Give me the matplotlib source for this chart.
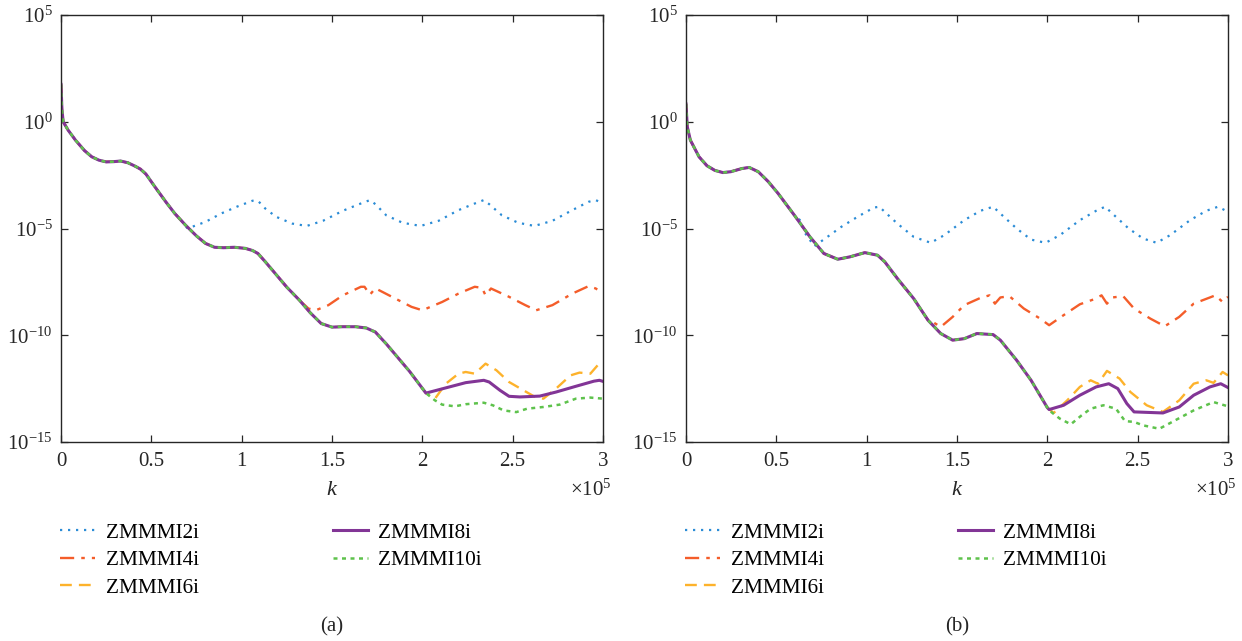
import numpy as np
import matplotlib
matplotlib.use('Agg')
import matplotlib.pyplot as plt

plt.rcParams['font.family'] = ['Liberation Serif', 'DejaVu Serif']
plt.rcParams['mathtext.fontset'] = 'custom'
plt.rcParams['mathtext.rm'] = 'Liberation Serif'
plt.rcParams['mathtext.it'] = 'Liberation Serif:italic'

# k values in units of 1e5, errors as log10 values

# ---- panel (a) ----
common_k_a = [0.0, 0.005, 0.012, 0.04, 0.08, 0.13, 0.17, 0.21, 0.25, 0.29, 0.33, 0.37, 0.41, 0.44,
              0.47, 0.52, 0.58, 0.63, 0.69, 0.75, 0.80, 0.85, 0.90, 0.96, 1.02, 1.06, 1.09, 1.13,
              1.19, 1.25, 1.32, 1.38, 1.44, 1.50, 1.56, 1.63, 1.69, 1.74, 1.80, 1.86, 1.93]
common_e_a = [1.75, 0.6, 0.0, -0.4, -0.86, -1.35, -1.64, -1.8, -1.88, -1.87, -1.84, -1.92, -2.08, -2.22,
              -2.45, -3.05, -3.75, -4.3, -4.85, -5.35, -5.7, -5.88, -5.9, -5.88, -5.93, -6.03, -6.17, -6.55,
              -7.15, -7.75, -8.36, -8.95, -9.45, -9.62, -9.6, -9.6, -9.66, -9.85, -10.4, -11.0, -11.7]

k2_a = [0.66, 0.70, 0.80, 0.886, 0.973, 1.06, 1.09, 1.13, 1.19, 1.28, 1.36, 1.45, 1.56, 1.65,
        1.71, 1.74, 1.80, 1.89, 1.99, 2.09, 2.20, 2.29, 2.34, 2.37, 2.44, 2.53, 2.62, 2.72,
        2.83, 2.92, 2.96, 3.0]
e2_a = [-4.55, -5.0, -4.69, -4.30, -3.98, -3.70, -3.70, -4.06, -4.45, -4.77, -4.88, -4.64, -4.17,
        -3.86, -3.67, -3.86, -4.38, -4.73, -4.88, -4.64, -4.14, -3.83, -3.67, -3.86, -4.38, -4.73,
        -4.88, -4.64, -4.14, -3.75, -3.67, -3.83]

k4_a = [1.37, 1.41, 1.48, 1.56, 1.66, 1.68, 1.71, 1.74, 1.85, 1.94, 2.0, 2.11, 2.20, 2.29, 2.33,
        2.35, 2.38, 2.48, 2.57, 2.63, 2.72, 2.83, 2.92, 2.96, 3.0]
e4_a = [-8.75, -8.83, -8.59, -8.13, -7.73, -7.73, -8.1, -7.8, -8.28, -8.67, -8.83, -8.44, -8.05,
        -7.73, -7.78, -8.13, -7.81, -8.2, -8.59, -8.83, -8.59, -8.05, -7.7, -7.81, -8.05]

k6_a = [2.02, 2.07, 2.13, 2.20, 2.24, 2.29, 2.35, 2.41, 2.48, 2.56, 2.63, 2.67, 2.74, 2.82, 2.87,
        2.93, 2.97, 3.0]
e6_a = [-12.71, -12.97, -12.27, -11.8, -11.72, -11.8, -11.33, -11.64, -12.19, -12.58, -12.92,
        -12.97, -12.5, -11.88, -11.75, -11.8, -11.41, -11.36]

k8_a = [2.02, 2.15, 2.24, 2.34, 2.37, 2.43, 2.48, 2.54, 2.65, 2.74, 2.85, 2.95, 2.98, 3.0]
e8_a = [-12.71, -12.42, -12.22, -12.11, -12.19, -12.58, -12.86, -12.89, -12.85, -12.66, -12.39,
        -12.15, -12.11, -12.16]

k10_a = [2.02, 2.07, 2.11, 2.18, 2.24, 2.34, 2.39, 2.45, 2.52, 2.58, 2.67, 2.76, 2.85, 2.93, 3.0]
e10_a = [-12.71, -13.05, -13.25, -13.33, -13.23, -13.16, -13.28, -13.52, -13.6, -13.44, -13.36,
         -13.25, -12.97, -12.92, -12.97]

# ---- panel (b) ----
common_k_b = [0.0, 0.007, 0.024, 0.072, 0.116, 0.16, 0.204, 0.248, 0.31, 0.35, 0.40, 0.456, 0.51,
              0.60, 0.686, 0.763, 0.84, 0.906, 0.99, 1.06, 1.10, 1.17, 1.26, 1.34, 1.41, 1.476,
              1.54, 1.61, 1.70, 1.74, 1.83, 1.91]
common_e_b = [0.83, -0.23, -0.86, -1.64, -2.06, -2.28, -2.38, -2.34, -2.19, -2.14, -2.34, -2.81,
              -3.36, -4.38, -5.39, -6.17, -6.44, -6.33, -6.13, -6.25, -6.56, -7.34, -8.28, -9.30,
              -9.92, -10.23, -10.16, -9.92, -9.97, -10.23, -11.17, -12.11]

k2_b = [0.63, 0.66, 0.71, 0.77, 0.86, 0.95, 1.04, 1.07, 1.10, 1.17, 1.26, 1.355, 1.43, 1.54,
        1.63, 1.70, 1.74, 1.83, 1.91, 1.99, 2.07, 2.18, 2.27, 2.32, 2.36, 2.45, 2.53, 2.605,
        2.68, 2.79, 2.88, 2.945, 3.0]
e2_b = [-4.6, -5.23, -5.83, -5.47, -4.92, -4.45, -4.02, -3.98, -4.22, -4.77, -5.39, -5.67, -5.31,
        -4.61, -4.17, -3.98, -4.30, -5.0, -5.52, -5.67, -5.31, -4.61, -4.17, -3.98, -4.30, -5.0,
        -5.47, -5.67, -5.31, -4.61, -4.17, -3.98, -4.22]

k4_b = [1.366, 1.41, 1.476, 1.54, 1.63, 1.68, 1.71, 1.74, 1.79, 1.87, 1.96, 2.01, 2.09, 2.18,
        2.27, 2.30, 2.33, 2.36, 2.42, 2.48, 2.57, 2.65, 2.73, 2.81, 2.90, 2.93, 2.97, 3.0]
e4_b = [-9.38, -9.61, -9.14, -8.59, -8.25, -8.13, -8.52, -8.23, -8.17, -8.75, -9.22, -9.53,
        -9.06, -8.55, -8.28, -8.13, -8.52, -8.23, -8.17, -8.75, -9.22, -9.58, -9.14, -8.52,
        -8.23, -8.13, -8.44, -8.2]

k6_b = [2.0, 2.035, 2.11, 2.18, 2.24, 2.28, 2.33, 2.40, 2.46, 2.55, 2.64, 2.73, 2.81, 2.88,
        2.92, 2.97, 3.0]
e6_b = [-13.39, -13.64, -13.05, -12.42, -12.11, -12.27, -11.67, -12.03, -12.66, -13.28, -13.59,
        -13.05, -12.27, -12.11, -12.23, -11.72, -11.88]

k8_b = [2.0, 2.01, 2.09, 2.18, 2.27, 2.34, 2.39, 2.44, 2.48, 2.64, 2.73, 2.81, 2.90, 2.96, 3.0]
e8_b = [-13.39, -13.48, -13.28, -12.81, -12.42, -12.27, -12.5, -13.2, -13.59, -13.64, -13.36,
        -12.81, -12.42, -12.27, -12.45]

k10_b = [2.0, 2.01, 2.07, 2.13, 2.19, 2.24, 2.31, 2.38, 2.43, 2.48, 2.53, 2.62, 2.70, 2.81,
         2.92, 3.0]
e10_b = [-13.39, -13.52, -13.91, -14.17, -13.75, -13.44, -13.28, -13.44, -14.02, -14.06, -14.22,
         -14.38, -14.02, -13.52, -13.13, -13.33]

labels = ['ZMMMI2i', 'ZMMMI4i', 'ZMMMI6i', 'ZMMMI8i', 'ZMMMI10i']
colors = ['#2b8cd6', '#f45d2a', '#fdb22b', '#823596', '#5ec24c']
styles = [(0, (1, 2.6)), (0, (6, 3, 1.5, 3)), (0, (5, 3)), '-', (0, (1.6, 1.8))]
widths = [1.6, 1.7, 1.7, 2.2, 1.8]


def join(ck, ce, tk, te):
    ks = [k for k in ck if k < tk[0]] + tk
    es = [e for k, e in zip(ck, ce) if k < tk[0]] + te
    return np.array(ks) * 1e5, 10.0 ** np.array(es)


panels = [
    (common_k_a, common_e_a, [(k2_a, e2_a), (k4_a, e4_a), (k6_a, e6_a), (k8_a, e8_a), (k10_a, e10_a)]),
    (common_k_b, common_e_b, [(k2_b, e2_b), (k4_b, e4_b), (k6_b, e6_b), (k8_b, e8_b), (k10_b, e10_b)]),
]

W, H = 1242, 641
fig = plt.figure(figsize=(W / 100, H / 100), dpi=100)

ax_left = [61, 686]
ax_w = 542
ax_top, ax_bot = 15, 442
captions = ['(a)', '(b)']

for p, (ck, ce, tails) in enumerate(panels):
    ax = fig.add_axes([ax_left[p] / W, 1 - ax_bot / H, ax_w / W, (ax_bot - ax_top) / H])
    lines = []
    for i, (tk, te) in enumerate(tails):
        x, y = join(ck, ce, tk, te)
        ln, = ax.plot(x, y, color=colors[i], linestyle=styles[i], lw=widths[i], label=labels[i])
        lines.append(ln)
    ax.set_yscale('log')
    ax.set_xlim(0, 3e5)
    ax.set_ylim(1e-15, 1e5)
    ax.set_xticks(np.arange(0, 3.01e5, 0.5e5))
    ax.set_xticklabels(['0', '0.5', '1', '1.5', '2', '2.5', '3'])
    ax.set_yticks([1e-15, 1e-10, 1e-5, 1e0, 1e5])
    ax.set_yticklabels(['$10^{-15}$', '$10^{-10}$', '$10^{-5}$', '$10^{0}$', '$10^{5}$'])
    ax.yaxis.set_minor_locator(matplotlib.ticker.NullLocator())
    ax.tick_params(direction='in', length=5, width=0.9, top=True, right=True,
                   labelsize=15, colors='#262626')
    ax.tick_params(axis='x', pad=7)
    ax.tick_params(axis='y', pad=6)
    for s in ax.spines.values():
        s.set_color('#262626')
        s.set_linewidth(1.0)
    ax.text(0.5, -0.113, '$k$', transform=ax.transAxes, ha='center', va='center',
            fontsize=16, color='#262626')
    ax.text(1.016, -0.112, r'$\times10^{5}$', transform=ax.transAxes, ha='right', va='center',
            fontsize=15, color='#262626')
    fig.legend(handles=lines, loc='upper left',
               bbox_to_anchor=((ax_left[p] - 1) / W, 1 - 523 / H), ncol=2, frameon=False,
               fontsize=15.3, handlelength=1.65, handletextpad=0.5, columnspacing=6.3,
               labelspacing=0.36, borderpad=0, borderaxespad=0)
    fig.text((ax_left[p] + ax_w / 2) / W, 1 - 627 / H, captions[p], ha='center', va='center',
             fontsize=15, color='#262626')

fig.savefig('out.png', dpi=100)
